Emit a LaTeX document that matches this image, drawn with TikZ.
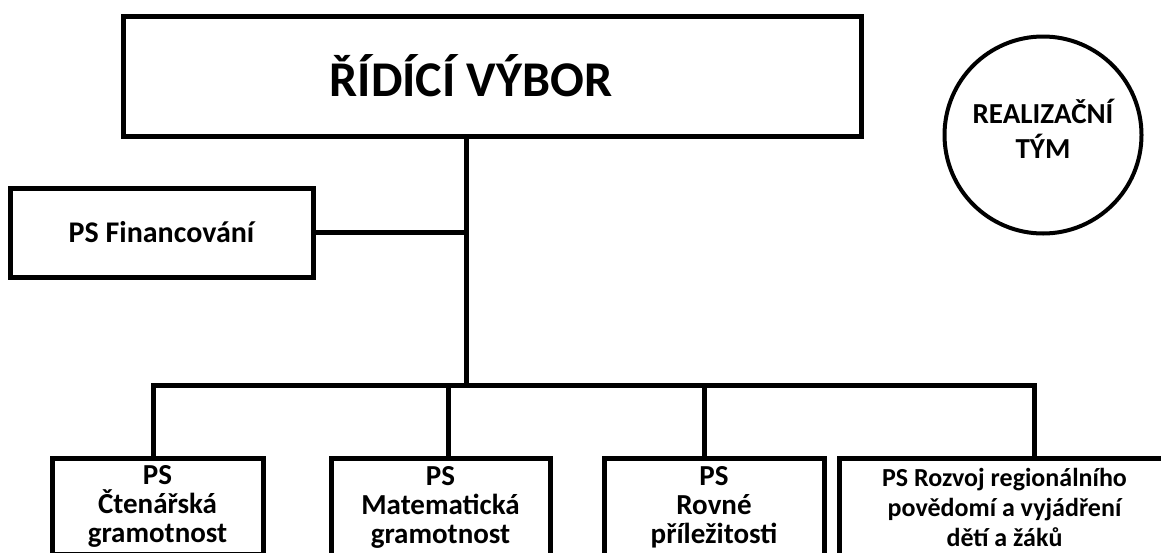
\documentclass[tikz,border=0pt]{standalone}
\usepackage{fontspec}
\setmainfont{Carlito}

\begin{document}
\begin{tikzpicture}[x=1pt,y=-1pt,line width=5pt,
                    box/.style={draw,rectangle,inner sep=3pt,align=center,
                                font=\bfseries\fontsize{29}{29}\selectfont},
                    ps/.style={box,minimum width=#1,minimum height=98pt}]

  \path[use as bounding box,fill=white] (0,0) rectangle (1161,552);

  \node[box,minimum width=738pt,minimum height=120pt,
        font=\bfseries\fontsize{50}{56}\selectfont] (rv)  at (492,76)    {\hspace*{-42pt}ŘÍDÍCÍ VÝBOR};
  \node[box,minimum width=303pt,minimum height=89pt,
        font=\bfseries\fontsize{30}{34}\selectfont] (fin) at (161.5,232.5) {PS Financování};
  \node[draw,circle,line width=4pt,minimum size=197pt,align=center,text depth=12pt,
        font=\bfseries\fontsize{29}{35}\selectfont] (rt) at (1043,135) {REALIZAČNÍ\\TÝM};

  \node[ps=211pt,minimum height=96pt] (ctg) at (157.5,506) {PS\\Čtenářská\\gramotnost};
  \node[ps=219pt] (mag) at (440.5,507) {PS\\Matematická\\gramotnost};
  \node[ps=220pt] (rpr) at (714,507)   {PS\\Rovné\\příležitosti};
  \node[ps=331pt,font=\bfseries\fontsize{26}{30}\selectfont] (rpv) at (1004.5,507)
       {PS Rozvoj regionálního\\povědomí a vyjádření\\dětí a žáků};

  \coordinate (bus) at (466,385);
  \coordinate (d1)  at (153,385);
  \coordinate (d2)  at (448,385);
  \coordinate (d3)  at (704,385);
  \coordinate (d4)  at (1034,385);

  \draw (rv.south -| bus) -- (bus);
  \draw (fin.east) -- (fin.east -| bus);
  \draw (d1 |- ctg.north) -- (d1) -- (d4) -- (d4 |- rpv.north);
  \draw (d2) -- (d2 |- mag.north);
  \draw (d3) -- (d3 |- rpr.north);
\end{tikzpicture}
\end{document}
